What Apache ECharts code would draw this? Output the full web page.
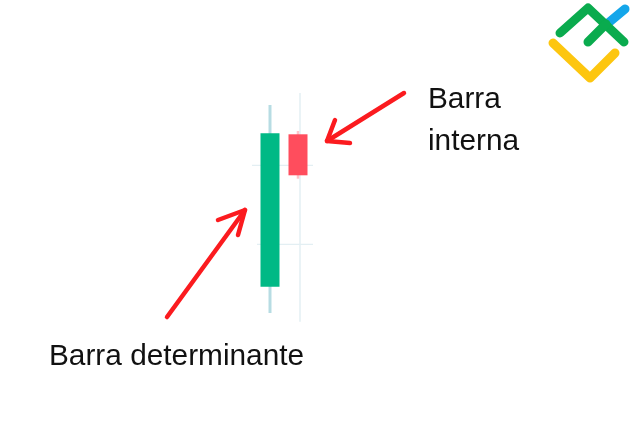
<!DOCTYPE html>
<html><head><meta charset="utf-8">
<script src="https://cdn.jsdelivr.net/npm/echarts@6/dist/echarts.min.js"></script>
<style>html,body{margin:0;padding:0;background:#fff}#c{width:634px;height:447px}</style>
</head><body><div id="c"></div>
<script>
// Data
var categories = ['Barra determinante', 'Barra interna'];
// [open, close, low, high]
var candleValues = [
  [38.3, 191.7, 12, 220],
  [190.7, 149.7, 146.3, 194]
];
var bodyColors = ['#00b985', '#ff4d5d'];
var wickColors = ['#b7dce3', '#ffc3ca'];
var gridLevels = [159.7, 80.7];
var labelTexts = ['Barra\ninterna', 'Barra determinante'];

var chart = echarts.init(document.getElementById('c'), null, {renderer: 'canvas'});

var candleData = candleValues.map(function (v, i) { return [i].concat(v); });

var option = {
  animation: false,
  backgroundColor: '#ffffff',
  grid: [
    {left: 256, width: 56, top: 85, height: 240, containLabel: false},
    {left: 252, width: 61, top: 85, height: 240, containLabel: false}
  ],
  xAxis: [
    {type: 'category', data: categories, show: false, boundaryGap: true, gridIndex: 0},
    {type: 'value', min: 0, max: 61, show: false, gridIndex: 1}
  ],
  yAxis: [
    {type: 'value', min: 0, max: 240, show: false, gridIndex: 0},
    {type: 'value', min: 0, max: 240, show: false, gridIndex: 1}
  ],
  series: [
    {
      type: 'line', xAxisIndex: 1, yAxisIndex: 1, symbol: 'none', silent: true,
      lineStyle: {color: '#e3eff3', width: 1.2},
      data: [[0, gridLevels[0]], [61, gridLevels[0]]], z: 1
    },
    {
      type: 'line', xAxisIndex: 1, yAxisIndex: 1, symbol: 'none', silent: true,
      lineStyle: {color: '#e3eff3', width: 1.2},
      data: [[5, gridLevels[1]], [61, gridLevels[1]]], z: 1
    },
    {
      type: 'line', xAxisIndex: 1, yAxisIndex: 1, symbol: 'none', silent: true,
      lineStyle: {color: '#e3eff3', width: 1.5},
      data: [[48, 232], [48, 3.3]], z: 1
    },
    {
      type: 'custom', xAxisIndex: 0, yAxisIndex: 0, z: 5,
      data: candleData,
      renderItem: function (params, api) {
        var i = api.value(0);
        var o = api.value(1), c = api.value(2), l = api.value(3), h = api.value(4);
        var pO = api.coord([i, o]), pC = api.coord([i, c]);
        var pL = api.coord([i, l]), pH = api.coord([i, h]);
        var w = 19;
        var x = pO[0];
        var top = Math.min(pO[1], pC[1]), bot = Math.max(pO[1], pC[1]);
        var ww = i === 0 ? 3 : 2.5;
        return {
          type: 'group',
          children: [
            {type: 'rect', shape: {x: x - ww / 2, y: pH[1], width: ww, height: pL[1] - pH[1]},
             style: {fill: wickColors[i]}},
            {type: 'rect', shape: {x: x - w / 2, y: top, width: w, height: bot - top},
             style: {fill: bodyColors[i]}}
          ]
        };
      }
    }
  ],
  graphic: [
    // arrows
    {type: 'polyline', shape: {points: [[167, 317], [245, 210]]}, style: {stroke: '#fb1b1f', lineWidth: 4.5, lineCap: 'round', lineJoin: 'round', fill: null}},
    {type: 'polyline', shape: {points: [[218, 220], [245, 210], [238, 235]]}, style: {stroke: '#fb1b1f', lineWidth: 4.5, lineCap: 'round', lineJoin: 'round', fill: null}},
    {type: 'polyline', shape: {points: [[404, 93], [327, 141]]}, style: {stroke: '#fb1b1f', lineWidth: 4.5, lineCap: 'round', lineJoin: 'round', fill: null}},
    {type: 'polyline', shape: {points: [[335, 120], [327, 141], [350, 143]]}, style: {stroke: '#fb1b1f', lineWidth: 4.5, lineCap: 'round', lineJoin: 'round', fill: null}},
    // labels
    {type: 'text', left: 428, top: 79, style: {text: labelTexts[0], font: '29.8px "Liberation Sans"', fill: '#111', lineHeight: 42}},
    {type: 'text', left: 49, top: 342, style: {text: labelTexts[1], font: '29.8px "Liberation Sans"', fill: '#111'}},
    // logo
    {type: 'polyline', shape: {points: [[553, 43], [590, 78], [615, 53]]}, style: {stroke: '#fdc60f', lineWidth: 9, lineCap: 'round', lineJoin: 'round', fill: null}},
    {type: 'polyline', shape: {points: [[607, 24], [625, 9]]}, style: {stroke: '#14a6ea', lineWidth: 9, lineCap: 'round', fill: null}},
    {type: 'polyline', shape: {points: [[560, 33], [588, 8], [624, 42]]}, style: {stroke: '#0aab4e', lineWidth: 9, lineCap: 'round', lineJoin: 'round', fill: null}},
    {type: 'polyline', shape: {points: [[588, 42], [606, 24]]}, style: {stroke: '#0aab4e', lineWidth: 9, lineCap: 'round', fill: null}}
  ]
};
chart.setOption(option);
</script></body></html>
